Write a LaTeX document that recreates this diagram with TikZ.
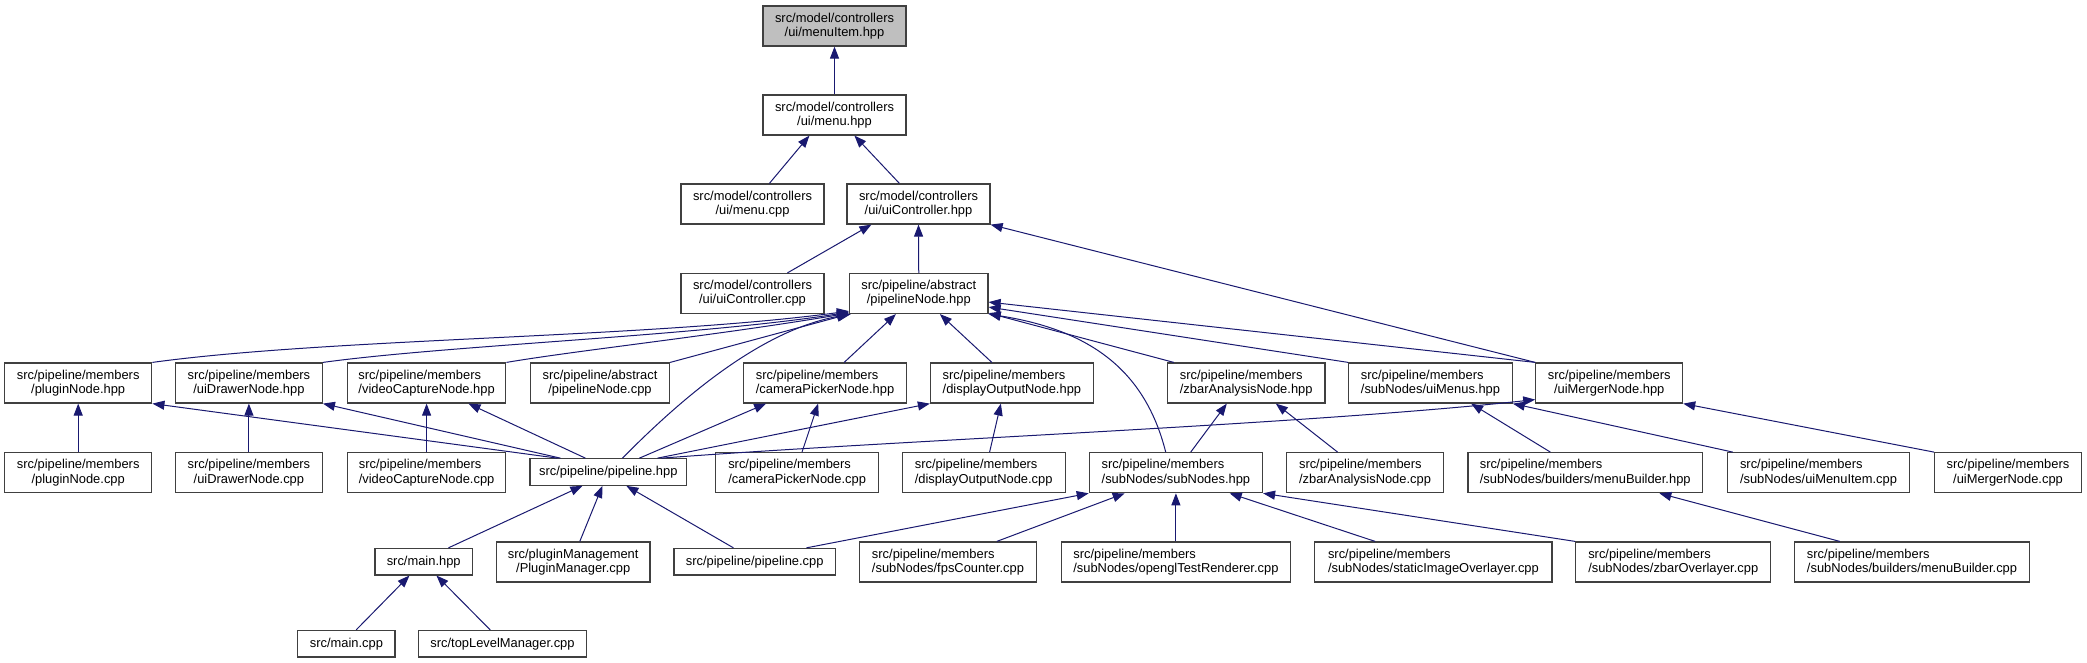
\documentclass[tikz,border=0pt]{standalone}
\usepackage{fontspec}
\setmainfont{Liberation Sans}
\usetikzlibrary{arrows.meta}
\definecolor{edgeblue}{HTML}{191970}
\definecolor{boxline}{HTML}{404040}
\definecolor{rootfill}{HTML}{BFBFBF}
\tikzset{
  box/.style={draw=boxline, line width=1.2pt, fill=white, inner sep=0pt,
    minimum height=40pt, font=\fontsize{12.9}{14.3}\selectfont, text=black},
  boxone/.style={box, minimum height=26.5pt},
  edge/.style={draw=edgeblue, line width=1pt, -{Triangle[length=12pt,width=9pt]}}
}
\begin{document}
\begin{tikzpicture}[x=1pt,y=-1pt]
\useasboundingbox[fill=white] (0,0) rectangle (2087,663);
% rank 0-3
\node[box, fill=rootfill, minimum width=143pt, align=center] (mItem) at (834.5,26) {src/model/controllers\\/ui/menuItem.hpp};
\node[box, minimum width=143pt, align=center] (menuH) at (834.5,115) {src/model/controllers\\/ui/menu.hpp};
\node[box, minimum width=143pt, align=center] (menuC) at (752.5,204) {src/model/controllers\\/ui/menu.cpp};
\node[box, minimum width=143pt, align=center] (uiCtrlH) at (918.5,204) {src/model/controllers\\/ui/uiController.hpp};
\node[box, minimum width=143pt, align=center] (uiCtrlC) at (752.5,293.5) {src/model/controllers\\/ui/uiController.cpp};
\node[box, minimum width=138.5pt, align=center] (pNodeH) at (918.75,293.5) {src/pipeline/abstract\\/pipelineNode.hpp};
% rank 4
\node[box, minimum width=147.3pt, align=center] (plugH) at (78.2,383) {src/pipeline/members\\/pluginNode.hpp};
\node[box, minimum width=146.9pt, align=center] (drawH) at (248.9,383) {src/pipeline/members\\/uiDrawerNode.hpp};
\node[box, minimum width=158.5pt, align=left] (vidH) at (426.6,383) {src/pipeline/members\\/videoCaptureNode.hpp};
\node[box, minimum width=139.2pt, align=center] (pNodeC) at (600,383) {src/pipeline/abstract\\/pipelineNode.cpp};
\node[box, minimum width=162.5pt, align=left] (camH) at (825,383) {src/pipeline/members\\/cameraPickerNode.hpp};
\node[box, minimum width=162.9pt, align=left] (dispH) at (1011.9,383) {src/pipeline/members\\/displayOutputNode.hpp};
\node[box, minimum width=157.6pt, align=left] (zbarH) at (1246.2,383) {src/pipeline/members\\/zbarAnalysisNode.hpp};
\node[box, minimum width=163.5pt, align=left] (menusH) at (1430.5,383) {src/pipeline/members\\/subNodes/uiMenus.hpp};
\node[box, minimum width=146.8pt, align=center] (mergH) at (1609.2,383) {src/pipeline/members\\/uiMergerNode.hpp};
% rank 5
\node[box, minimum width=147.3pt, align=center] (plugC) at (78.2,472.7) {src/pipeline/members\\/pluginNode.cpp};
\node[box, minimum width=146.9pt, align=center] (drawC) at (248.9,472.7) {src/pipeline/members\\/uiDrawerNode.cpp};
\node[box, minimum width=158.5pt, align=left] (vidC) at (426.6,472.7) {src/pipeline/members\\/videoCaptureNode.cpp};
\node[boxone, minimum width=156.6pt] (pipeH) at (608.3,472) {src/pipeline/pipeline.hpp};
\node[box, minimum width=163pt, align=left] (camC) at (797.1,472.7) {src/pipeline/members\\/cameraPickerNode.cpp};
\node[box, minimum width=163pt, align=left] (dispC) at (983.7,472.7) {src/pipeline/members\\/displayOutputNode.cpp};
\node[box, minimum width=173.2pt, align=left] (subH) at (1175.9,472.7) {src/pipeline/members\\/subNodes/subNodes.hpp};
\node[box, minimum width=157.6pt, align=left] (zbarC) at (1365,472.7) {src/pipeline/members\\/zbarAnalysisNode.cpp};
\node[box, minimum width=234.5pt, align=left] (mbH) at (1585.2,472.7) {src/pipeline/members\\/subNodes/builders/menuBuilder.hpp};
\node[box, minimum width=182.3pt, align=left] (mItemC) at (1818.5,472.7) {src/pipeline/members\\/subNodes/uiMenuItem.cpp};
\node[box, minimum width=146.8pt, align=center] (mergC) at (2008,472.7) {src/pipeline/members\\/uiMergerNode.cpp};
% rank 6
\node[boxone, minimum width=97.3pt] (mainH) at (423.7,561.7) {src/main.hpp};
\node[box, minimum width=153.6pt, align=center] (pmC) at (573.2,562) {src/pluginManagement\\/PluginManager.cpp};
\node[boxone, minimum width=161.3pt] (pipeC) at (754.7,561.7) {src/pipeline/pipeline.cpp};
\node[box, minimum width=177.2pt, align=left] (fpsC) at (948,562) {src/pipeline/members\\/subNodes/fpsCounter.cpp};
\node[box, minimum width=229.4pt, align=left] (oglC) at (1175.9,562) {src/pipeline/members\\/subNodes/openglTestRenderer.cpp};
\node[box, minimum width=237.3pt, align=left] (sioC) at (1433.4,562) {src/pipeline/members\\/subNodes/staticImageOverlayer.cpp};
\node[box, minimum width=195pt, align=left] (zoC) at (1673.2,562) {src/pipeline/members\\/subNodes/zbarOverlayer.cpp};
\node[box, minimum width=235.3pt, align=left] (mbC) at (1912,562) {src/pipeline/members\\/subNodes/builders/menuBuilder.cpp};
% rank 7
\node[boxone, minimum width=97.2pt] (mainC) at (346.4,643.7) {src/main.cpp};
\node[boxone, minimum width=167.5pt] (tlmC) at (502.5,643.7) {src/topLevelManager.cpp};
% edges ranks 1-3
\draw[edge] (menuH.north) -- (mItem.south);
\draw[edge] ([xshift=89pt]menuC.north west) -- ([xshift=47pt]menuH.south west);
\draw[edge] ([xshift=53pt]uiCtrlH.north west) -- ([xshift=92pt]menuH.south west);
\draw[edge] ([xshift=107pt]uiCtrlC.north west) -- ([xshift=25pt]uiCtrlH.south west);
\draw[edge] (pNodeH.north) -- (uiCtrlH.south);
\draw[edge] (mergH.north west) -- (uiCtrlH.south east);
% edges into pipelineNode.hpp
\draw[edge] (plugH.north east) .. controls (330,338) and (650,338) .. ([yshift=3pt]pNodeH.south west);
\draw[edge] (drawH.north east) .. controls (450,345) and (700,336) .. ([yshift=2pt]pNodeH.south west);
\draw[edge] (vidH.north east) .. controls (580,350) and (720,335) .. ([yshift=1pt]pNodeH.south west);
\draw[edge] (pNodeC.north east) -- (pNodeH.south west);
\draw[edge] ([xshift=93pt]pipeH.north west) .. controls (680,400) and (760,330) .. ([xshift=2pt]pNodeH.south west);
\draw[edge] ([xshift=101pt]camH.north west) -- ([xshift=47pt]pNodeH.south west);
\draw[edge] ([xshift=62pt]dispH.north west) -- ([xshift=91pt]pNodeH.south west);
\draw[edge] ([xshift=77pt]subH.north west) .. controls (1145,370) and (1090,330) .. (pNodeH.south east);
\draw[edge] ([xshift=7pt]zbarH.north west) -- ([yshift=1pt]pNodeH.south east);
\draw[edge] (menusH.north west) -- ([yshift=7pt]pNodeH.south east);
\draw[edge] (mergH.north west) -- ([yshift=12pt]pNodeH.south east);
% rank 5 -> 4
\draw[edge] (plugC.north) -- (plugH.south);
\draw[edge] (drawC.north) -- (drawH.south);
\draw[edge] (vidC.north) -- (vidH.south);
\draw[edge] ([xshift=28pt]pipeH.north west) -- (plugH.south east);
\draw[edge] ([xshift=31pt]pipeH.north west) -- (drawH.south east);
\draw[edge] ([xshift=56pt]pipeH.north west) -- ([xshift=-38pt]vidH.south east);
\draw[edge] ([xshift=87pt]camC.north west) -- ([xshift=75pt]camH.south west);
\draw[edge] ([xshift=110pt]pipeH.north west) -- ([xshift=23pt]camH.south west);
\draw[edge] ([xshift=88pt]dispC.north west) -- ([xshift=71pt]dispH.south west);
\draw[edge] ([xshift=128pt]pipeH.north west) -- (dispH.south west);
\draw[edge] ([xshift=102pt]subH.north west) -- ([xshift=60pt]zbarH.south west);
\draw[edge] ([xshift=52pt]zbarC.north west) -- ([xshift=109pt]zbarH.south west);
\draw[edge] ([xshift=83pt]mbH.north west) -- ([xshift=123pt]menusH.south west);
\draw[edge] ([xshift=6pt]mItemC.north west) -- (menusH.south east);
\draw[edge] ([xshift=132pt]pipeH.north west) .. controls (900,440) and (1300,425) .. ([yshift=4pt]mergH.south west);
\draw[edge] (mergC.north west) -- (mergH.south east);
% rank 6 -> 5
\draw[edge] ([xshift=133pt]pipeC.north west) -- (subH.south west);
\draw[edge] ([xshift=138pt]fpsC.north west) -- ([xshift=36pt]subH.south west);
\draw[edge] (oglC.north) -- (subH.south);
\draw[edge] ([xshift=61pt]sioC.north west) -- ([xshift=141pt]subH.south west);
\draw[edge] (zoC.north west) -- (subH.south east);
\draw[edge] ([xshift=46pt]mbC.north west) -- ([xshift=192pt]mbH.south west);
\draw[edge] ([xshift=74pt]mainH.north west) -- ([xshift=53pt]pipeH.south west);
\draw[edge] ([xshift=84pt]pmC.north west) -- ([xshift=73pt]pipeH.south west);
\draw[edge] ([xshift=60pt]pipeC.north west) -- ([xshift=97pt]pipeH.south west);
% rank 7 -> 6
\draw[edge] ([xshift=59pt]mainC.north west) -- ([xshift=35pt]mainH.south west);
\draw[edge] ([xshift=72pt]tlmC.north west) -- ([xshift=62pt]mainH.south west);
\end{tikzpicture}
\end{document}
